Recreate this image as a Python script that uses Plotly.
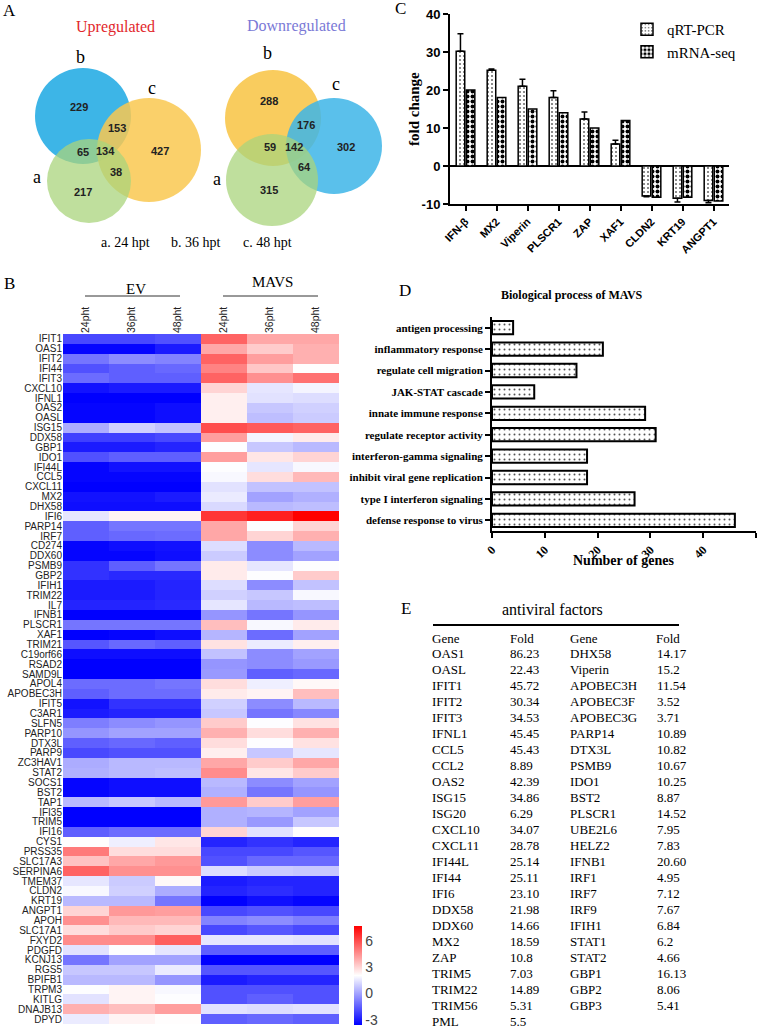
import plotly.graph_objects as go

W, H = 760, 1031

# ---------------- DATA ----------------
# Panel A (Venn counts)
venn_up_labels = ["229", "153", "65", "134", "427", "38", "217"]
venn_down_labels = ["288", "176", "59", "142", "302", "64", "315"]
venn_captions = ["a. 24 hpt", "b. 36 hpt", "c. 48 hpt"]

# Panel C
c_genes = ["IFN-β", "MX2", "Viperin", "PLSCR1", "ZAP", "XAF1", "CLDN2", "KRT19", "ANGPT1"]
c_qrt = [30.2, 25.2, 21.0, 18.0, 12.4, 5.8, -7.9, -8.5, -9.1]
c_qrt_err = [4.6, 0.3, 1.8, 1.8, 1.8, 1.0, 0.2, 1.0, 0.6]
c_mrna = [20.0, 18.0, 15.0, 14.0, 10.0, 12.0, -8.2, -8.2, -9.2]

# Panel D
d_terms = ["antigen processing", "inflammatory response", "regulate cell migration",
           "JAK-STAT cascade", "innate immune response", "regulate receptor activity",
           "interferon-gamma signaling", "inhibit viral gene replication",
           "type I interferon signaling", "defense response to virus"]
d_counts = [4, 21, 16, 8, 29, 31, 18, 18, 27, 46]

# Panel B heatmap
hm_genes = ["IFIT1", "OAS1", "IFIT2", "IFI44", "IFIT3", "CXCL10", "IFNL1", "OAS2", "OASL", "ISG15",
            "DDX58", "GBP1", "IDO1", "IFI44L", "CCL5", "CXCL11", "MX2", "DHX58", "IFI6", "PARP14",
            "IRF7", "CD274", "DDX60", "PSMB9", "GBP2", "IFIH1", "TRIM22", "IL7", "IFNB1", "PLSCR1",
            "XAF1", "TRIM21", "C19orf66", "RSAD2", "SAMD9L", "APOL4", "APOBEC3H", "IFIT5", "C3AR1", "SLFN5",
            "PARP10", "DTX3L", "PARP9", "ZC3HAV1", "STAT2", "SOCS1", "BST2", "TAP1", "IFI35", "TRIM5",
            "IFI16", "CYS1", "PRSS35", "SLC17A3", "SERPINA6", "TMEM37", "CLDN2", "KRT19", "ANGPT1", "APOH",
            "SLC17A1", "FXYD2", "PDGFD", "KCNJ13", "RGS5", "BPIFB1", "TRPM3", "KITLG", "DNAJB13", "DPYD"]
hm_cols = ["24pht", "36pht", "48pht", "24pht", "36pht", "48pht"]
hm_ev = [
    [-2.0, -2.0, -1.8], [-3.5, -3.5, -3.0], [-1.0, -0.5, -0.7], [-1.8, -1.5, -1.3], [-1.2, -1.5, -1.5],
    [-3.2, -3.0, -3.0], [-3.6, -3.6, -3.6], [-3.5, -3.5, -3.3], [-3.5, -3.5, -3.3], [0.2, 1.0, 0.7],
    [-2.2, -2.2, -2.0], [-3.0, -3.0, -2.8], [-1.8, -1.5, -1.5], [-3.5, -3.2, -3.2], [-3.5, -3.5, -3.5],
    [-3.6, -3.6, -3.6], [-3.2, -3.2, -3.0], [-3.3, -3.3, -3.3], [1.5, 2.3, 2.3], [-1.5, -1.0, -1.0],
    [-1.5, -1.3, -1.2], [-3.5, -3.3, -3.2], [-3.5, -3.5, -3.3], [-2.5, -1.5, -1.0], [-2.5, -2.7, -2.7],
    [-3.0, -3.0, -2.8], [-3.0, -3.0, -2.8], [-2.8, -2.8, -2.7], [-3.6, -3.6, -3.6], [-1.0, -1.0, -1.0],
    [-3.6, -3.5, -3.3], [-1.7, -1.3, -1.5], [-3.3, -3.3, -3.3], [-3.6, -3.6, -3.6], [-3.6, -3.6, -3.6],
    [-1.2, -1.2, -1.0], [-1.5, -1.2, -1.2], [-3.2, -2.5, -2.5], [-3.0, -2.8, -2.8], [-0.8, -0.5, -0.3],
    [-0.3, 0.0, 0.0], [-1.5, -1.3, -1.5], [-2.0, -1.8, -1.8], [0.2, 0.5, 0.5], [0.3, 0.5, 0.6],
    [-3.5, -3.3, -3.3], [-3.5, -3.3, -3.3], [0.5, 0.8, 0.5], [-3.6, -3.6, -3.6], [-3.6, -3.6, -3.6],
    [-1.5, -1.2, -1.2], [2.1, 1.7, 2.6], [5.0, 2.8, 2.8], [3.4, 4.0, 4.3], [5.5, 4.5, 4.5],
    [1.5, 0.9, 2.2], [1.9, 1.0, 0.2], [0.5, 0.5, -1.0], [3.0, 4.3, 4.2], [4.5, 3.6, 3.6],
    [2.8, 3.2, 3.0], [4.6, 4.6, 5.6], [1.4, 2.0, 1.5], [-1.0, 0.0, 0.0], [0.8, 0.8, 1.6],
    [0.5, 0.5, -0.3], [2.0, 2.3, 1.9], [1.4, 2.3, 2.0], [3.8, 3.5, 4.2], [1.6, 2.3, 2.1],
]
hm_mavs = [
    [5.5, 4.0, 4.0], [4.0, 3.2, 3.8], [5.5, 4.2, 3.8], [4.8, 3.3, 2.1], [5.5, 4.5, 5.2],
    [3.0, 1.5, 1.8], [2.4, 1.4, 1.3], [2.4, 0.8, 1.0], [2.4, 0.6, 0.9], [6.0, 5.7, 5.5],
    [4.2, 1.8, 2.5], [2.0, 0.8, 0.5], [4.2, 2.6, 3.0], [2.0, 1.5, 1.9], [1.9, 2.8, 3.6],
    [1.4, 0.7, 0.7], [1.6, 0.0, 0.3], [1.2, 0.5, 0.6], [6.5, 7.0, 7.7], [4.0, 2.0, 3.0],
    [4.0, 3.0, 3.8], [1.3, -0.5, 0.5], [0.9, -0.5, 0.0], [2.5, 1.5, 2.0], [2.5, 2.0, 3.2],
    [1.3, -0.5, 0.7], [1.0, 0.8, 1.9], [1.5, 0.5, 0.6], [-0.3, -1.0, -0.3], [3.5, 1.9, 2.5],
    [0.4, -1.2, 0.0], [2.7, 1.6, 2.4], [0.7, -0.5, 0.0], [-0.3, -0.5, -0.2], [-0.2, -1.5, -1.3],
    [2.8, 1.7, 2.2], [2.5, 2.3, 3.5], [1.0, -0.5, 0.5], [0.8, -1.0, -0.6], [3.2, 2.0, 2.7],
    [3.8, 2.8, 3.8], [2.8, 2.0, 2.7], [2.4, 0.8, 1.5], [4.0, 3.2, 4.0], [4.6, 2.6, 3.2],
    [0.5, -0.5, 0.0], [0.3, -1.0, -0.3], [4.3, 3.2, 4.2], [0.3, 0.4, 0.0], [0.3, -0.2, 0.8],
    [3.0, 1.4, 2.1], [-2.8, -2.5, -2.8], [-2.0, -2.0, -1.7], [-1.8, -1.3, -1.3], [1.3, 0.9, 0.8],
    [-3.0, -2.8, -2.8], [-2.8, -2.6, -2.8], [-3.6, -3.3, -3.5], [-2.0, -1.8, -2.0], [-0.7, -0.5, -0.8],
    [-2.0, -1.7, -2.0], [1.5, 1.5, 1.4], [-1.5, -1.5, -1.5], [-3.6, -3.6, -3.6], [-1.7, -1.7, -1.7],
    [-3.0, -2.8, -2.8], [-1.8, -1.8, -1.8], [-1.8, -1.5, -1.8], [1.4, 1.3, 1.4], [-1.5, -1.3, -1.5],
]
cb_ticks = [6, 3, 0, -3]

# Panel E table
e_gene_left = ["OAS1", "OASL", "IFIT1", "IFIT2", "IFIT3", "IFNL1", "CCL5", "CCL2", "OAS2", "ISG15",
               "ISG20", "CXCL10", "CXCL11", "IFI44L", "IFI44", "IFI6", "DDX58", "DDX60", "MX2", "ZAP",
               "TRIM5", "TRIM22", "TRIM56", "PML"]
e_fold_left = ["86.23", "22.43", "45.72", "30.34", "34.53", "45.45", "45.43", "8.89", "42.39", "34.86",
               "6.29", "34.07", "28.78", "25.14", "25.11", "23.10", "21.98", "14.66", "18.59", "10.8",
               "7.03", "14.89", "5.31", "5.5"]
e_gene_right = ["DHX58", "Viperin", "APOBEC3H", "APOBEC3F", "APOBEC3G", "PARP14", "DTX3L", "PSMB9",
                "IDO1", "BST2", "PLSCR1", "UBE2L6", "HELZ2", "IFNB1", "IRF1", "IRF7", "IRF9", "IFIH1",
                "STAT1", "STAT2", "GBP1", "GBP2", "GBP3"]
e_fold_right = ["14.17", "15.2", "11.54", "3.52", "3.71", "10.89", "10.82", "10.67", "10.25", "8.87",
                "14.52", "7.95", "7.83", "20.60", "4.95", "7.12", "7.67", "6.84", "6.2", "4.66",
                "16.13", "8.06", "5.41"]


# ---------------- helpers ----------------
def px(x):
    return x / W


def py(y):
    return 1 - y / H


SERIF = "Liberation Serif"
SANS = "Liberation Sans"
annotations = []
shapes = []


def ann(text, x, y, size=13, family=SERIF, color="black", weight="normal",
        xanchor="center", yanchor="middle", angle=0):
    annotations.append(dict(text=text, x=px(x), y=py(y), xref="paper", yref="paper",
                            showarrow=False, xanchor=xanchor, yanchor=yanchor, textangle=angle,
                            font=dict(size=size, family=family, color=color, weight=weight)))


def circle(cx, cy, r, color, opacity):
    shapes.append(dict(type="circle", xref="paper", yref="paper",
                       x0=px(cx - r), x1=px(cx + r), y0=py(cy + r), y1=py(cy - r),
                       fillcolor=color, opacity=opacity, line=dict(width=0), layer="below"))


def hline(x0, x1, y, width=1, color="#333"):
    shapes.append(dict(type="line", xref="paper", yref="paper", x0=px(x0), x1=px(x1),
                       y0=py(y), y1=py(y), line=dict(color=color, width=width)))


BLUE, YELLOW, GREEN = "#3db5e7", "#f9c850", "#a9d47c"

# ---------------- Panel A ----------------
ann("A", 9, 10, 17)
ann("Upregulated", 115, 27, 16, color="#e2272b")
ann("Downregulated", 296, 26, 16, color="#7a79d6")
# up venn: b blue, c yellow, a green
circle(83, 116, 48, BLUE, 1.0)
circle(149, 150, 52, YELLOW, 0.85)
circle(89, 181, 42, GREEN, 0.75)
# down venn: b yellow, c blue, a green
circle(273, 118, 48, YELLOW, 0.92)
circle(334, 146, 48, BLUE, 0.85)
circle(272, 180, 46, GREEN, 0.75)
up_pos = [(79, 107), (117, 128), (83, 152), (106, 151), (160, 151), (116, 172), (83, 192)]
down_pos = [(269, 101), (306, 125), (270, 147), (294, 147), (346, 147), (304, 167), (269, 190)]
for t, (x, y) in zip(venn_up_labels, up_pos):
    ann(t, x, y, 11, SANS, "#222", "bold")
for t, (x, y) in zip(venn_down_labels, down_pos):
    ann(t, x, y, 11, SANS, "#222", "bold")
for t, (x, y) in zip(["b", "c", "a", "b", "c", "a"],
                     [(80, 57), (152, 88), (37, 177), (267, 53), (336, 84), (217, 179)]):
    ann(t, x, y, 18)
for t, x in zip(venn_captions, [126, 196, 267]):
    ann(t, x, 242, 14)

# ---------------- Panel B labels ----------------
ann("B", 9, 284, 17)
ann("EV", 136, 289, 15)
ann("MAVS", 272, 282, 15)
hline(85, 180, 296)
hline(223, 318, 296)

# ---------------- Panel C labels ----------------
ann("C", 400, 8, 17)
ann("fold change", 414, 109, 15, SERIF, weight="bold", angle=-90)

# ---------------- Panel D labels ----------------
ann("D", 405, 290, 17)
ann("Biological process of MAVS", 572, 295, 12, SERIF, weight="bold")
ann("Number of genes", 623, 560, 14, SERIF, weight="bold")

# ---------------- Panel E table ----------------
ann("E", 406, 608, 17)
ann("antiviral factors", 552, 609, 16)
hline(433, 679, 625, 2, "black")
for t, x in zip(["Gene", "Fold", "Gene", "Fold"], [430, 508, 568, 654]):
    ann(t, x, 638, 13, xanchor="left")
for i, (g, f) in enumerate(zip(e_gene_left, e_fold_left)):
    ann(g, 430, 653 + 16 * i, 13, xanchor="left")
    ann(f, 508, 653 + 16 * i, 13, xanchor="left")
for i, (g, f) in enumerate(zip(e_gene_right, e_fold_right)):
    ann(g, 568, 653 + 16 * i, 13, xanchor="left")
    ann(f, 655, 653 + 16 * i, 13, xanchor="left")

# ---------------- traces ----------------
fig = go.Figure()

fig.add_trace(go.Bar(
    x=c_genes, y=c_qrt, name="qRT-PCR", xaxis="x", yaxis="y",
    marker=dict(color="white", line=dict(color="black", width=1.5),
                pattern=dict(shape=".", fgcolor="#666", bgcolor="white", size=4, solidity=0.2)),
    error_y=dict(type="data", symmetric=False,
                 array=[e if v > 0 else 0 for v, e in zip(c_qrt, c_qrt_err)],
                 arrayminus=[e if v < 0 else 0 for v, e in zip(c_qrt, c_qrt_err)],
                 color="black", thickness=1.5, width=3)))
fig.add_trace(go.Bar(
    x=c_genes, y=c_mrna, name="mRNA-seq", xaxis="x", yaxis="y",
    marker=dict(color="white", line=dict(color="black", width=1.5),
                pattern=dict(shape=".", fgcolor="black", bgcolor="white", size=5, solidity=0.5))))

fig.add_trace(go.Bar(
    x=d_counts, y=d_terms, orientation="h", xaxis="x2", yaxis="y2", showlegend=False,
    width=0.62,
    marker=dict(color="white", line=dict(color="black", width=2),
                pattern=dict(shape=".", fgcolor="#555", bgcolor="white", size=5, solidity=0.12))))

z = [ev + mv for ev, mv in zip(hm_ev, hm_mavs)]
fig.add_trace(go.Heatmap(
    z=z, x=list(range(6)), y=hm_genes, xaxis="x3", yaxis="y3",
    colorscale=[[0, "#0000ff"], [0.5, "#ffffff"], [1, "#ff0000"]], zmin=-3.6, zmax=7.7,
    colorbar=dict(x=px(354), xanchor="left", xpad=0, ypad=0, thickness=8, thicknessmode="pixels",
                  len=99, lenmode="pixels", y=py(975.5), yanchor="middle",
                  outlinewidth=0, tickvals=cb_ticks, ticktext=[str(t) for t in cb_ticks],
                  ticks="", tickfont=dict(size=14, family=SANS, color="#444")),
    showscale=True))

axis_common = dict(showgrid=False, zeroline=False, linecolor="black", linewidth=2,
                   ticks="outside", ticklen=5, tickwidth=2, tickcolor="black", automargin=False)

fig.update_layout(
    template="none",
    font=dict(family=SANS, color="black"),
    width=W, height=H, margin=dict(l=0, r=0, t=0, b=0, pad=0, autoexpand=False),
    paper_bgcolor="white", plot_bgcolor="white",
    barmode="group", bargap=0.35, bargroupgap=0.15,
    showlegend=True,
    legend=dict(x=px(627), y=py(13), xanchor="left", yanchor="top",
                font=dict(family=SERIF, size=15, color="black"), bgcolor="rgba(0,0,0,0)",
                tracegroupgap=0, itemwidth=30),
    xaxis=dict(domain=[px(450), px(729)], anchor="y", showline=True,
               tickangle=-45, tickfont=dict(family=SANS, size=11, weight="bold", color="black"),
               range=[-0.5, 8.5], **axis_common),
    yaxis=dict(domain=[py(204), py(14)], anchor="x", showline=True, range=[-10, 40],
               tickvals=[-10, 0, 10, 20, 30, 40], ticktext=["-10", "0", "10", "20", "30", "40"],
               tickfont=dict(family=SANS, size=13, weight="bold", color="black"),
               showgrid=False, linecolor="black", linewidth=2, ticks="outside", ticklen=5,
               tickwidth=2, tickcolor="black", automargin=False,
               zeroline=True, zerolinecolor="black", zerolinewidth=2),
    xaxis2=dict(domain=[px(492), px(756)], anchor="y2", showline=True, range=[0, 50],
                tickvals=[0, 10, 20, 30, 40, 50], tickangle=-45,
                tickfont=dict(family=SERIF, size=12, weight="bold", color="black"), **axis_common),
    yaxis2=dict(domain=[py(531), py(317)], anchor="x2", showline=True, autorange="reversed",
                tickfont=dict(family=SERIF, size=11, weight="bold", color="black"), **axis_common),
    xaxis3=dict(domain=[px(63), px(339)], anchor="y3", side="top", range=[-0.5, 5.5],
                tickmode="array", tickvals=list(range(6)), ticktext=hm_cols, tickangle=-90,
                ticks="", showline=False, showgrid=False, zeroline=False, automargin=False,
                tickfont=dict(family=SANS, size=10.5, color="#222")),
    yaxis3=dict(domain=[py(1024), py(334)], anchor="x3", autorange="reversed",
                tickmode="array", tickvals=hm_genes, ticktext=hm_genes,
                ticks="", showline=False, showgrid=False, zeroline=False, automargin=False,
                tickfont=dict(family=SANS, size=10, color="#222")),
    annotations=annotations, shapes=shapes,
)

fig.write_html("out.html", config={"displayModeBar": False},
               post_script="document.body.style.margin='0px';document.body.style.padding='0px';")
